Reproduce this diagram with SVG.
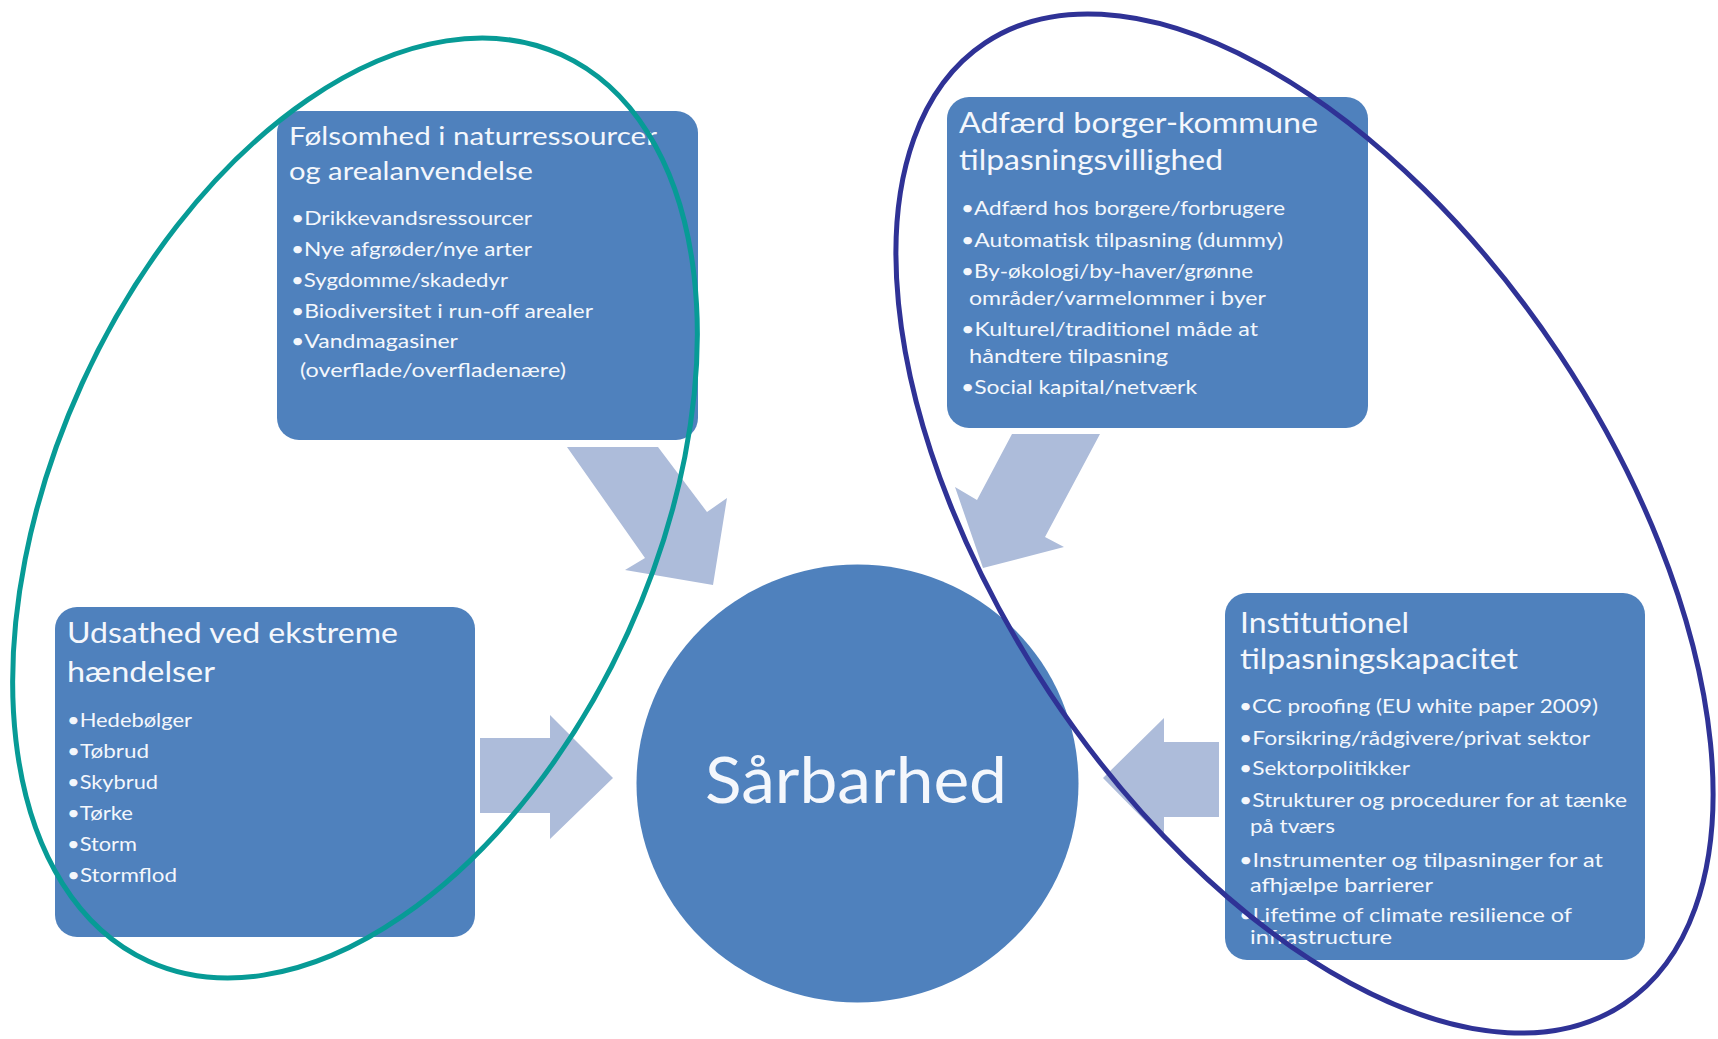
<svg xmlns="http://www.w3.org/2000/svg" width="1718" height="1039" viewBox="0 0 1718 1039">
<style>
.box{fill:#4f81bd}
.arrow{fill:#adbcda}
.t{font-family:Lato,"Open Sans","Liberation Sans",sans-serif;fill:#f4f7fc}
.h1{font-size:25px}
.h2{font-size:28px}
.b{font-size:18.5px}
.big{font-size:64px}
.ring{fill:none;stroke-width:5}
</style>
<rect width="1718" height="1039" fill="#ffffff"/>
<g id="connectors">
<polygon class="arrow" points="567,447 658,447 707,512 727,498 713,585 625,570 645,558"/>
<polygon class="arrow" points="1012,434 1100,434 1045,537 1064,547 983,568 955,487 977,500"/>
<polygon class="arrow" points="480,738 550,738 550,715 613,778 550,839 550,813 480,813"/>
<polygon class="arrow" points="1219,742 1164,742 1164,718 1103,778 1164,840 1164,817 1219,817"/>
</g>
<g id="node-folsomhed">
<rect class="box" x="277" y="111" width="421" height="329" rx="22"/>
<text class="t h1" x="289" y="145" textLength="368" lengthAdjust="spacingAndGlyphs">Følsomhed i naturressourcer</text>
<text class="t h1" x="289" y="180" textLength="244" lengthAdjust="spacingAndGlyphs">og arealanvendelse</text>
<text class="t b" x="291" y="225" textLength="241" lengthAdjust="spacingAndGlyphs">•Drikkevandsressourcer</text>
<text class="t b" x="291" y="256" textLength="241" lengthAdjust="spacingAndGlyphs">•Nye afgrøder/nye arter</text>
<text class="t b" x="291" y="287" textLength="217" lengthAdjust="spacingAndGlyphs">•Sygdomme/skadedyr</text>
<text class="t b" x="291" y="318" textLength="302" lengthAdjust="spacingAndGlyphs">•Biodiversitet i run-off arealer</text>
<text class="t b" x="291" y="348" textLength="167" lengthAdjust="spacingAndGlyphs">•Vandmagasiner</text>
<text class="t b" x="300" y="377" textLength="266" lengthAdjust="spacingAndGlyphs">(overflade/overfladenære)</text>
</g>
<g id="node-adfaerd">
<rect class="box" x="947" y="97" width="421" height="331" rx="22"/>
<text class="t h2" x="959" y="133" textLength="359" lengthAdjust="spacingAndGlyphs">Adfærd borger-kommune</text>
<text class="t h2" x="959" y="170" textLength="264" lengthAdjust="spacingAndGlyphs">tilpasningsvillighed</text>
<text class="t b" x="961" y="215" textLength="324" lengthAdjust="spacingAndGlyphs">•Adfærd hos borgere/forbrugere</text>
<text class="t b" x="961" y="247" textLength="322" lengthAdjust="spacingAndGlyphs">•Automatisk tilpasning (dummy)</text>
<text class="t b" x="961" y="278" textLength="292" lengthAdjust="spacingAndGlyphs">•By-økologi/by-haver/grønne</text>
<text class="t b" x="969" y="305" textLength="297" lengthAdjust="spacingAndGlyphs">områder/varmelommer i byer</text>
<text class="t b" x="961" y="336" textLength="297" lengthAdjust="spacingAndGlyphs">•Kulturel/traditionel måde at</text>
<text class="t b" x="969" y="363" textLength="199" lengthAdjust="spacingAndGlyphs">håndtere tilpasning</text>
<text class="t b" x="961" y="394" textLength="236" lengthAdjust="spacingAndGlyphs">•Social kapital/netværk</text>
</g>
<g id="node-udsathed">
<rect class="box" x="55" y="607" width="420" height="330" rx="22"/>
<text class="t h2" x="67" y="643" textLength="331" lengthAdjust="spacingAndGlyphs">Udsathed ved ekstreme</text>
<text class="t h2" x="67" y="682" textLength="148" lengthAdjust="spacingAndGlyphs">hændelser</text>
<text class="t b" x="67" y="727" textLength="125" lengthAdjust="spacingAndGlyphs">•Hedebølger</text>
<text class="t b" x="67" y="758" textLength="82" lengthAdjust="spacingAndGlyphs">•Tøbrud</text>
<text class="t b" x="67" y="789" textLength="91" lengthAdjust="spacingAndGlyphs">•Skybrud</text>
<text class="t b" x="67" y="820" textLength="66" lengthAdjust="spacingAndGlyphs">•Tørke</text>
<text class="t b" x="67" y="851" textLength="70" lengthAdjust="spacingAndGlyphs">•Storm</text>
<text class="t b" x="67" y="882" textLength="110" lengthAdjust="spacingAndGlyphs">•Stormflod</text>
</g>
<g id="node-institutionel">
<rect class="box" x="1225" y="593" width="420" height="367" rx="22"/>
<text class="t h2" x="1240" y="633" textLength="169" lengthAdjust="spacingAndGlyphs">Institutionel</text>
<text class="t h2" x="1240" y="669" textLength="278" lengthAdjust="spacingAndGlyphs">tilpasningskapacitet</text>
<text class="t b" x="1239" y="713" textLength="359" lengthAdjust="spacingAndGlyphs">•CC proofing (EU white paper 2009)</text>
<text class="t b" x="1239" y="745" textLength="351" lengthAdjust="spacingAndGlyphs">•Forsikring/rådgivere/privat sektor</text>
<text class="t b" x="1239" y="775" textLength="171" lengthAdjust="spacingAndGlyphs">•Sektorpolitikker</text>
<text class="t b" x="1239" y="807" textLength="388" lengthAdjust="spacingAndGlyphs">•Strukturer og procedurer for at tænke</text>
<text class="t b" x="1250" y="833" textLength="85" lengthAdjust="spacingAndGlyphs">på tværs</text>
<text class="t b" x="1239" y="867" textLength="364" lengthAdjust="spacingAndGlyphs">•Instrumenter og tilpasninger for at</text>
<text class="t b" x="1250" y="892" textLength="183" lengthAdjust="spacingAndGlyphs">afhjælpe barrierer</text>
<text class="t b" x="1239" y="922" textLength="333" lengthAdjust="spacingAndGlyphs">•Lifetime of climate resilience of</text>
<text class="t b" x="1250" y="944" textLength="142" lengthAdjust="spacingAndGlyphs">infrastructure</text>
</g>
<g id="node-sarbarhed">
<ellipse class="box" cx="857.5" cy="783.5" rx="221" ry="219"/>
<text class="t big" x="705" y="803" textLength="302" lengthAdjust="spacingAndGlyphs">Sårbarhed</text>
</g>
<g id="groupings">
<ellipse class="ring" stroke="#079b96" cx="355" cy="508" rx="498" ry="300" transform="rotate(-65.5 355 508)"/>
<ellipse class="ring" stroke="#2f3296" cx="1304.5" cy="523.5" rx="577" ry="306" transform="rotate(56.4 1304.5 523.5)"/>
</g>
</svg>
